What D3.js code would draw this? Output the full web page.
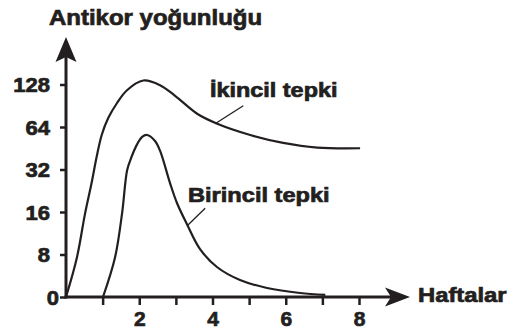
<!DOCTYPE html>
<html>
<head>
<meta charset="utf-8">
<script src="https://cdn.jsdelivr.net/npm/d3@7"></script>
<style>
  body { margin: 0; background: #fff; }
  text { font-family: "Liberation Sans", Arial, sans-serif; font-weight: bold; fill: #231f20; stroke: #231f20; stroke-width: 0.7px; }
</style>
</head>
<body>
<div id="chart"></div>
<script>
// axis ticks
var weekTicks = [1, 2, 3, 4, 5, 6, 7, 8]
var weekLabels = [2, 4, 6, 8]
var levelTicks = [0, 8, 16, 32, 64, 128]

// secondary response (weeks, antibody level)
var secondaryWeeks = [0, 0.30, 0.52, 0.70, 0.84, 0.975, 1.156, 1.385, 1.658, 2.112, 2.568, 2.978, 3.58, 4.13, 5.03, 5.93, 6.86, 8.03]
var secondaryLevel = [0, 7.5, 15.7, 27, 41.9, 58, 77.8, 99.4, 119, 134, 127, 111, 84, 69, 58, 52, 48.5, 48]

// primary response
var primaryWeeks = [1.01, 1.34, 1.53, 1.67, 1.776, 1.94, 2.08, 2.21, 2.43, 2.57, 2.84, 3.03, 3.31, 3.66, 4.13, 4.75, 5.49, 6.39, 7.08]
var primaryLevel = [0, 7.5, 15.7, 31.8, 40.5, 50.9, 56.6, 58, 53.5, 46, 26.9, 19.4, 13.6, 9.0, 5.6, 3.2, 1.7, 0.75, 0.4]

var ink = "#231f20"
var svg = d3.select("#chart").append("svg")
  .attr("width", 516)
  .attr("height", 331)

var x = d3.scaleLinear().domain([0, 8]).range([66, 359])
// each doubling gets the same height, with 0 at the bottom
var y = d3.scaleLinear()
  .domain(levelTicks)
  .range(levelTicks.map(function(d, i) { return 297 - i * 42.5 }))

function stretch(sel, k) {
  sel.each(function() {
    var w = this.getComputedTextLength()
    d3.select(this).attr("textLength", w * k).attr("lengthAdjust", "spacingAndGlyphs")
  })
}

// y axis ticks + labels
var yAxis = svg.append("g")
  .attr("transform", "translate(66,0)")
  .call(d3.axisLeft(y).tickValues(levelTicks).tickSize(6).tickPadding(10))
yAxis.select(".domain").remove()
yAxis.selectAll("line").attr("stroke", ink).attr("stroke-width", 2.5)
yAxis.selectAll("text")
  .style("font-size", "20px")
  .attr("fill", ink)
  .attr("dy", "0.36em")
  .attr("x", function(d) { return d === 0 ? -7 : -16 })
stretch(yAxis.selectAll("text"), 1.1)

// x axis ticks
var xAxis = svg.append("g")
  .attr("transform", "translate(0,297)")
  .call(d3.axisBottom(x).tickValues(weekTicks).tickSize(8).tickFormat(""))
xAxis.select(".domain").remove()
xAxis.selectAll("line").attr("stroke", ink).attr("stroke-width", 2.5)

svg.selectAll(".xlab")
  .data(weekLabels)
  .enter()
  .append("text")
  .attr("class", "xlab")
  .attr("x", function(d) { return x(d) + 0.5 })
  .attr("y", 326)
  .attr("text-anchor", "middle")
  .style("font-size", "21px")
  .text(function(d) { return d })

// axis lines with arrow heads
svg.append("line")
  .attr("x1", x(0)).attr("y1", y(0) + 1.5)
  .attr("x2", x(0)).attr("y2", 55)
  .attr("stroke", ink).attr("stroke-width", 3)
svg.append("path")
  .attr("d", "M66,37 L76.5,62 L66,57 L55.5,62 Z")
  .attr("fill", ink)

svg.append("line")
  .attr("x1", x(0) - 1.5).attr("y1", y(0))
  .attr("x2", 392).attr("y2", y(0))
  .attr("stroke", ink).attr("stroke-width", 3)
svg.append("path")
  .attr("d", "M410,297 L385,287.5 L391,297 L385,306.5 Z")
  .attr("fill", ink)

// curves
var line = d3.line()
  .x(function(d) { return x(d[0]) })
  .y(function(d) { return y(d[1]) })
  .curve(d3.curveCatmullRom.alpha(0.5))

svg.append("path")
  .datum(d3.zip(secondaryWeeks, secondaryLevel))
  .attr("d", line)
  .attr("fill", "none")
  .attr("stroke", ink)
  .attr("stroke-width", 2.2)

svg.append("path")
  .datum(d3.zip(primaryWeeks, primaryLevel))
  .attr("d", line)
  .attr("fill", "none")
  .attr("stroke", ink)
  .attr("stroke-width", 2.2)

// leader lines for the labels
var leaders = [[[4.07, 69], [4.84, 96]], [[3.31, 13.4], [3.80, 17.4]]]
svg.selectAll(".leader")
  .data(leaders)
  .enter()
  .append("line")
  .attr("class", "leader")
  .attr("x1", function(d) { return x(d[0][0]) })
  .attr("y1", function(d) { return y(d[0][1]) })
  .attr("x2", function(d) { return x(d[1][0]) })
  .attr("y2", function(d) { return y(d[1][1]) })
  .attr("stroke", ink)
  .attr("stroke-width", 1.3)

// texts
var title = svg.append("text").attr("x", 49).attr("y", 25)
  .style("font-size", "22px").text("Antikor yoğunluğu")
stretch(title, 1.09)

var lab1 = svg.append("text").attr("x", 210).attr("y", 97)
  .style("font-size", "20px").text("İkincil tepki")
stretch(lab1, 1.17)

var lab2 = svg.append("text").attr("x", 188).attr("y", 202)
  .style("font-size", "20px").text("Birincil tepki")
stretch(lab2, 1.18)

var xt = svg.append("text").attr("x", 418).attr("y", 302)
  .style("font-size", "20px").text("Haftalar")
stretch(xt, 1.19)
</script>
</body>
</html>
